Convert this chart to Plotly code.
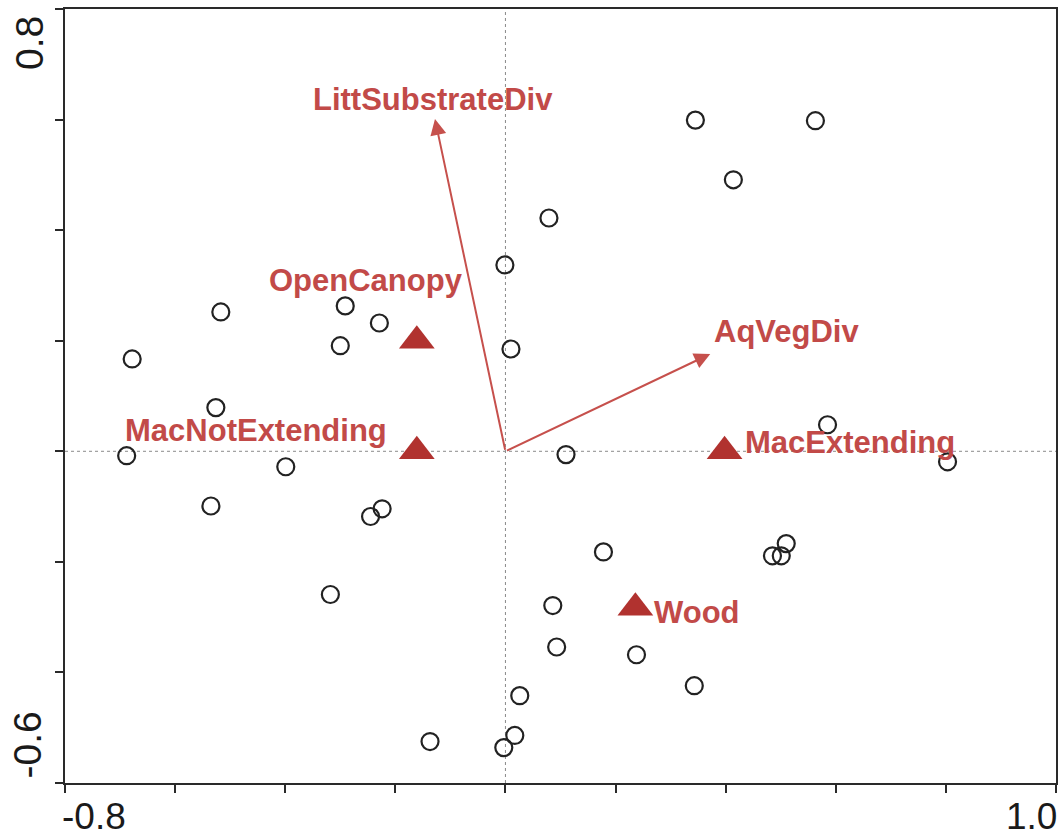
import plotly.graph_objects as go

# ---- data ----
sample_x = [0.345, 0.563, 0.414, 0.079, -0.001, -0.517, -0.291, -0.229, -0.300, 0.010,
            -0.678, -0.526, 0.585, -0.688, 0.110, -0.399, 0.803, -0.535, -0.224, -0.245,
            0.178, 0.510, 0.485, 0.501, -0.318, 0.086, 0.093, 0.238, 0.343, 0.026,
            -0.137, 0.017, -0.003]
sample_y = [0.599, 0.598, 0.491, 0.422, 0.337, 0.252, 0.263, 0.232, 0.191, 0.185,
            0.167, 0.079, 0.048, -0.008, -0.006, -0.028, -0.019, -0.099, -0.104, -0.118,
            -0.182, -0.167, -0.189, -0.189, -0.259, -0.279, -0.354, -0.368, -0.424, -0.442,
            -0.525, -0.514, -0.536]

nominal_names = ["OpenCanopy", "MacNotExtending", "MacExtending", "Wood"]
nominal_x = [-0.161, -0.161, 0.398, 0.236]
nominal_y = [0.200, 0.000, 0.000, -0.283]

arrow_names = ["LittSubstrateDiv", "AqVegDiv"]
arrow_x = [-0.128, 0.372]
arrow_y = [0.601, 0.176]

x_range = [-0.8, 1.0]
y_range = [-0.6, 0.8]
x_ticks = [-0.8, -0.6, -0.4, -0.2, 0.0, 0.2, 0.4, 0.6, 0.8, 1.0]
y_ticks = [-0.6, -0.4, -0.2, 0.0, 0.2, 0.4, 0.6, 0.8]
x_tick_labels = ["-0.8", "1.0"]
y_tick_labels = ["-0.6", "0.8"]

# ---- styles ----
TXT = "#c24a48"
TRI = "#b1322f"
ARR = "#c6504c"
FONT = "Liberation Sans, Arial, sans-serif"

# label placement (pixel offsets from the mark)
nominal_label_style = {
    "OpenCanopy": dict(xanchor="right", xshift=48, yshift=60),
    "MacNotExtending": dict(xanchor="right", xshift=-28, yshift=21),
    "MacExtending": dict(xanchor="left", xshift=18, yshift=9),
    "Wood": dict(xanchor="left", xshift=17, yshift=-5),
}
arrow_label_style = {
    "LittSubstrateDiv": dict(xanchor="center", xshift=-2, yshift=20),
    "AqVegDiv": dict(xanchor="left", xshift=2, yshift=22),
}

fig = go.Figure()

fig.add_trace(go.Scatter(
    x=sample_x, y=sample_y, mode="markers",
    marker=dict(symbol="circle-open", size=17, color="#222222", line=dict(width=2.2, color="#222222")),
    hoverinfo="skip", showlegend=False))

fig.add_trace(go.Scatter(
    x=nominal_x, y=nominal_y, mode="markers",
    marker=dict(symbol="triangle-up", size=31, color=TRI, line=dict(width=0)),
    hoverinfo="skip", showlegend=False))

annotations = []
for name, ax_, ay_ in zip(arrow_names, arrow_x, arrow_y):
    annotations.append(dict(
        x=ax_, y=ay_, xref="x", yref="y", ax=0, ay=0, axref="x", ayref="y",
        text="", showarrow=True, arrowhead=2, arrowsize=1.6, arrowwidth=2, arrowcolor=ARR))
    st = arrow_label_style[name]
    annotations.append(dict(
        x=ax_, y=ay_, xref="x", yref="y", text="<b>%s</b>" % name, showarrow=False,
        font=dict(family=FONT, size=31, color=TXT), yanchor="middle", **st))

for name, nx, ny in zip(nominal_names, nominal_x, nominal_y):
    st = nominal_label_style[name]
    annotations.append(dict(
        x=nx, y=ny, xref="x", yref="y", text="<b>%s</b>" % name, showarrow=False,
        font=dict(family=FONT, size=31, color=TXT), yanchor="middle", **st))

# end tick labels
tick_font = dict(family=FONT, size=37, color="#1a1a1a")
annotations.append(dict(x=x_range[0], y=y_range[0], xref="x", yref="y", text=x_tick_labels[0],
                        showarrow=False, xanchor="left", yanchor="middle", yshift=-33, xshift=-4,
                        borderpad=0, font=tick_font))
annotations.append(dict(x=x_range[1], y=y_range[0], xref="x", yref="y", text=x_tick_labels[1],
                        showarrow=False, xanchor="right", yanchor="middle", yshift=-33, xshift=2,
                        borderpad=0, font=tick_font))
annotations.append(dict(x=x_range[0], y=y_range[1], xref="x", yref="y", text=y_tick_labels[1],
                        showarrow=False, xanchor="center", yanchor="top", xshift=-36, yshift=-5,
                        textangle=-90, font=dict(family=FONT, size=39, color="#1a1a1a")))
annotations.append(dict(x=x_range[0], y=y_range[0], xref="x", yref="y", text=y_tick_labels[0],
                        showarrow=False, xanchor="center", yanchor="bottom", xshift=-38, yshift=2,
                        textangle=-90, font=dict(family=FONT, size=39, color="#1a1a1a")))

shapes = [
    dict(type="line", xref="x", yref="paper", x0=0, x1=0, y0=0, y1=1,
         line=dict(color="#8a8a8a", width=1, dash="dot"), layer="below"),
    dict(type="line", xref="paper", yref="y", x0=0, x1=1, y0=0, y1=0,
         line=dict(color="#8a8a8a", width=1, dash="dot"), layer="below"),
]

axis_common = dict(showgrid=False, zeroline=False, showline=True, linecolor="#2a2a2a",
                   linewidth=2, mirror=True, ticks="outside", ticklen=8, tickwidth=1.5,
                   tickcolor="#2a2a2a", showticklabels=False)

fig.update_layout(
    width=1062, height=840,
    margin=dict(l=65, r=4, t=9, b=57),
    plot_bgcolor="white", paper_bgcolor="white",
    xaxis=dict(range=x_range, tickvals=x_ticks, **axis_common),
    yaxis=dict(range=y_range, tickvals=y_ticks, **axis_common),
    annotations=annotations, shapes=shapes,
    showlegend=False,
)

fig.write_html("out.html")
